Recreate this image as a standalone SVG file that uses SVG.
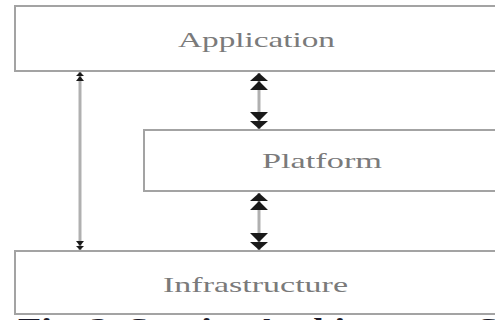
<svg xmlns="http://www.w3.org/2000/svg" width="495" height="320" viewBox="0 0 495 320">
  <style>
    .box { fill: #ffffff; stroke: #a3a3a3; stroke-width: 2; }
    .lbl { font-family: "Liberation Serif", "Times New Roman", serif; font-size: 21px; fill: #7a7a7a; }
    .line { stroke: #b0b0b0; stroke-width: 3; fill: none; }
    .head { fill: #1a1a1a; }
    .cap { font-family: "Liberation Serif", "Times New Roman", serif; font-size: 26px; font-weight: bold; fill: #1a1a2a; }
  </style>
  <defs>
    <path id="dblUp" d="M0,0 L-9,8 L9,8 Z M0,8 L-9,17 L9,17 Z"/>
    <path id="smallUp" d="M0,0 L-4,4 L4,4 Z M0,4 L-4,9 L4,9 Z"/>
  </defs>
  <rect width="495" height="320" fill="#ffffff"/>

  <g id="application">
    <rect class="box" x="15" y="6" width="500" height="65"/>
    <text class="lbl" x="178" y="47" textLength="157" lengthAdjust="spacingAndGlyphs">Application</text>
  </g>

  <g id="platform">
    <rect class="box" x="144" y="130" width="400" height="61"/>
    <text class="lbl" x="262" y="168" textLength="120" lengthAdjust="spacingAndGlyphs">Platform</text>
  </g>

  <g id="infrastructure">
    <rect class="box" x="15" y="251" width="500" height="63"/>
    <text class="lbl" x="163" y="292" textLength="185" lengthAdjust="spacingAndGlyphs">Infrastructure</text>
  </g>

  <g id="connectors">
    <line class="line" x1="80" y1="72" x2="80" y2="250"/>
    <use href="#smallUp" class="head" transform="translate(80,72)"/>
    <use href="#smallUp" class="head" transform="translate(80,250) scale(1,-1)"/>

    <line class="line" x1="259" y1="73" x2="259" y2="129"/>
    <use href="#dblUp" class="head" transform="translate(259,73)"/>
    <use href="#dblUp" class="head" transform="translate(259,129) scale(1,-1)"/>

    <line class="line" x1="259" y1="193" x2="259" y2="250"/>
    <use href="#dblUp" class="head" transform="translate(259,193)"/>
    <use href="#dblUp" class="head" transform="translate(259,250) scale(1,-1)"/>
  </g>

  <text class="cap" x="18" y="336" textLength="480" lengthAdjust="spacingAndGlyphs">Fig. 2. Service Architecture. S</text>
</svg>
